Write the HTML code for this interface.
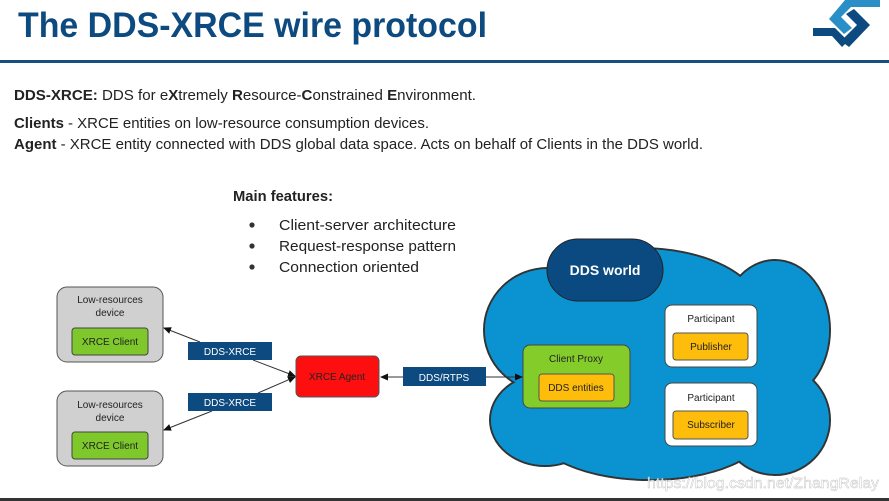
<!DOCTYPE html>
<html><head><meta charset="utf-8"><style>
html,body{margin:0;padding:0;background:#fff;}
svg{display:block;font-family:"Liberation Sans",sans-serif;}
</style></head><body>
<svg width="889" height="501" viewBox="0 0 889 501" xmlns="http://www.w3.org/2000/svg">
<defs>
<marker id="ar" markerWidth="8" markerHeight="8" refX="7" refY="4" orient="auto" markerUnits="userSpaceOnUse"><path d="M0,0.5 L8,4 L0,7.5 z" fill="#111"/></marker>
</defs>
<text x="18" y="37" font-size="35" font-weight="bold" fill="#0d4a80" textLength="469" lengthAdjust="spacingAndGlyphs">The DDS-XRCE wire protocol</text>
<rect x="0" y="60" width="889" height="3" fill="#164f80"/>
<!-- logo -->
<path d="M845,0 L880,0 L880,7 L851,7 L841,17 L852,28 L844,34 L829,19 Z" fill="#2a8fc6"/>
<path d="M846,14 L854,9 L870,25 L849,47 L841,41 L857,25 Z" fill="#0d4a80"/>
<path d="M813,28 L835,28 L848,41 L842,47 L832,36 L813,36 Z" fill="#0d4a80"/>
<g font-size="14.5" fill="#222">
<text x="14" y="100" textLength="462" lengthAdjust="spacingAndGlyphs"><tspan font-weight="bold">DDS-XRCE:</tspan> DDS for e<tspan font-weight="bold">X</tspan>tremely <tspan font-weight="bold">R</tspan>esource-<tspan font-weight="bold">C</tspan>onstrained <tspan font-weight="bold">E</tspan>nvironment.</text>
<text x="14" y="128" textLength="415" lengthAdjust="spacingAndGlyphs"><tspan font-weight="bold">Clients</tspan> - XRCE entities on low-resource consumption devices.</text>
<text x="14" y="149" textLength="689" lengthAdjust="spacingAndGlyphs"><tspan font-weight="bold">Agent</tspan> - XRCE entity connected with DDS global data space. Acts on behalf of Clients in the DDS world.</text>
<text x="233" y="201" font-weight="bold" textLength="100" lengthAdjust="spacingAndGlyphs">Main features:</text>
<text x="279" y="230" textLength="177" lengthAdjust="spacingAndGlyphs">Client-server architecture</text>
<text x="279" y="251" textLength="177" lengthAdjust="spacingAndGlyphs">Request-response pattern</text>
<text x="279" y="272" textLength="140" lengthAdjust="spacingAndGlyphs">Connection oriented</text>
</g>
<circle cx="252" cy="225" r="2.6" fill="#333"/><circle cx="252" cy="246" r="2.6" fill="#333"/><circle cx="252" cy="267" r="2.6" fill="#333"/>
<!-- cloud -->
<g stroke="#333" stroke-width="2" fill="#0a93d0">
<ellipse cx="548" cy="330" rx="64" ry="62"/>
<ellipse cx="545" cy="420" rx="55" ry="46"/>
<ellipse cx="640" cy="310" rx="120" ry="62"/>
<ellipse cx="775" cy="330" rx="55" ry="70"/>
<ellipse cx="775" cy="420" rx="55" ry="55"/>
<ellipse cx="650" cy="430" rx="115" ry="50"/>
<ellipse cx="660" cy="370" rx="140" ry="80"/>
</g>
<g fill="#0a93d0">
<ellipse cx="548" cy="330" rx="63" ry="61"/>
<ellipse cx="545" cy="420" rx="54" ry="45"/>
<ellipse cx="640" cy="310" rx="119" ry="61"/>
<ellipse cx="775" cy="330" rx="54" ry="69"/>
<ellipse cx="775" cy="420" rx="54" ry="54"/>
<ellipse cx="650" cy="430" rx="114" ry="49"/>
<ellipse cx="660" cy="370" rx="139" ry="79"/>
</g>
<rect x="547" y="239" width="116" height="62" rx="31" fill="#0b4a80" stroke="#222"/>
<text x="605" y="275" font-size="14" font-weight="bold" fill="#fff" text-anchor="middle">DDS world</text>
<g font-size="10" fill="#222" text-anchor="middle">
<rect x="57" y="287" width="106" height="75" rx="10" fill="#d0d0d0" stroke="#555"/>
<text x="110" y="303">Low-resources</text><text x="110" y="316">device</text>
<rect x="72" y="328" width="76" height="27" rx="3" fill="#7ec82c" stroke="#444"/>
<text x="110" y="345">XRCE Client</text>
<rect x="57" y="391" width="106" height="75" rx="10" fill="#d0d0d0" stroke="#555"/>
<text x="110" y="408">Low-resources</text><text x="110" y="421">device</text>
<rect x="72" y="432" width="76" height="27" rx="3" fill="#7ec82c" stroke="#444"/>
<text x="110" y="449">XRCE Client</text>
</g>
<g stroke="#333" stroke-width="1" fill="none">
<line x1="200" y1="342" x2="164" y2="328" marker-end="url(#ar)"/>
<line x1="253" y1="360" x2="295" y2="376" marker-end="url(#ar)"/>
<line x1="258" y1="393" x2="295" y2="377" marker-end="url(#ar)"/>
<line x1="212" y1="411" x2="164" y2="430" marker-end="url(#ar)"/>
<line x1="403" y1="377" x2="381" y2="377" marker-end="url(#ar)"/>
<line x1="486" y1="377" x2="522" y2="377" marker-end="url(#ar)"/>
</g>
<g font-size="10" fill="#fff" text-anchor="middle">
<rect x="188" y="342" width="84" height="18" fill="#0d4a80"/><text x="230" y="355">DDS-XRCE</text>
<rect x="188" y="393" width="84" height="18" fill="#0d4a80"/><text x="230" y="406">DDS-XRCE</text>
<rect x="403" y="367" width="83" height="19" fill="#0d4a80"/><text x="444" y="381">DDS/RTPS</text>
</g>
<rect x="296" y="356" width="83" height="41" rx="5" fill="#fe0f0f" stroke="#555"/>
<text x="337" y="380" font-size="10" fill="#222" text-anchor="middle">XRCE Agent</text>
<g font-size="10" fill="#222" text-anchor="middle">
<rect x="523" y="345" width="107" height="63" rx="7" fill="#84cc2a" stroke="#444"/>
<text x="576" y="362">Client Proxy</text>
<rect x="539" y="374" width="75" height="27" rx="3" fill="#fdbd0a" stroke="#555"/>
<text x="576" y="391">DDS entities</text>
<rect x="665" y="305" width="92" height="62" rx="7" fill="#fff" stroke="#444"/>
<text x="711" y="322">Participant</text>
<rect x="673" y="333" width="75" height="27" rx="3" fill="#fdbd0a" stroke="#555"/>
<text x="711" y="350">Publisher</text>
<rect x="665" y="383" width="92" height="63" rx="7" fill="#fff" stroke="#444"/>
<text x="711" y="401">Participant</text>
<rect x="673" y="411" width="75" height="28" rx="3" fill="#fdbd0a" stroke="#555"/>
<text x="711" y="428">Subscriber</text>
</g>
<text x="647" y="488" font-size="15" fill="#fff" fill-opacity="0.85" stroke="#bbb" stroke-width="0.4" textLength="232" lengthAdjust="spacingAndGlyphs">https://blog.csdn.net/ZhangRelay</text>
<rect x="0" y="498" width="889" height="3" fill="#333"/>
</svg>
</body></html>
